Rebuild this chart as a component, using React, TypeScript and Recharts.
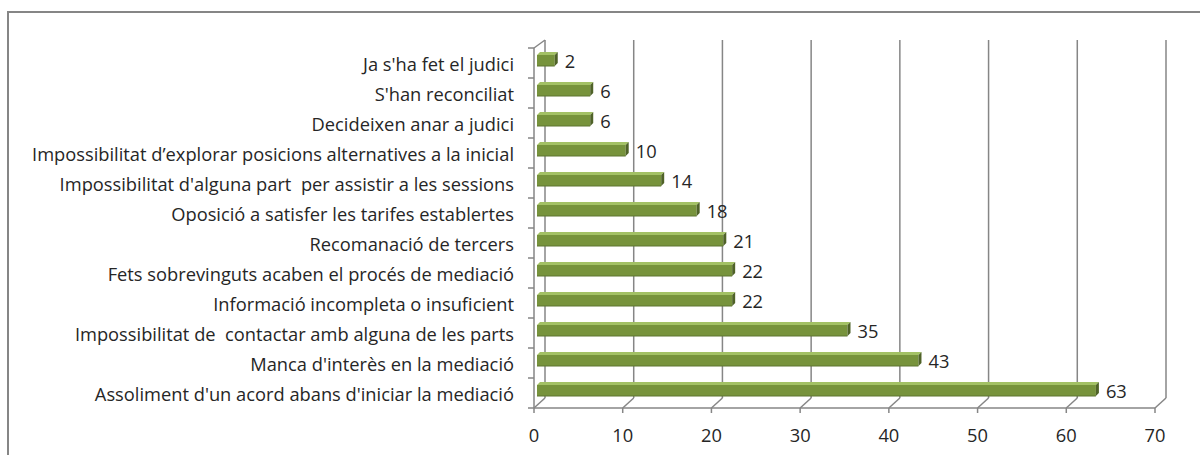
import React from "react"
import { BarChart, Bar, XAxis, YAxis, CartesianGrid, LabelList } from "recharts"

const categories = [
  "Ja s'ha fet el judici",
  "S'han reconciliat",
  "Decideixen anar a judici",
  "Impossibilitat d\u2019explorar posicions alternatives a la inicial",
  "Impossibilitat d'alguna part  per assistir a les sessions",
  "Oposició a satisfer les tarifes establertes",
  "Recomanació de tercers",
  "Fets sobrevinguts acaben el procés de mediació",
  "Informació incompleta o insuficient",
  "Impossibilitat de  contactar amb alguna de les parts",
  "Manca d'interès en la mediació",
  "Assoliment d'un acord abans d'iniciar la mediació",
]
const values = [2, 6, 6, 10, 14, 18, 21, 22, 22, 35, 43, 63]
const xTicks = [0, 10, 20, 30, 40, 50, 60, 70]

const data = categories.map((name, i) => ({ name, value: values[i] }))

const FONT = "'Open Sans', sans-serif"
const FS = 18.3
const GRID = "#868686"
const TEXT = "#262626"
const AXIS_X = 534
const PLOT_TOP = 48
const PLOT_BOTTOM = 408
const BAND = (PLOT_BOTTOM - PLOT_TOP) / categories.length
// 3D offsets (Excel style)
const WALL_DX = 11
const WALL_DY = 10
const BAR_OFF = 3
const BAR_D = 3

function Bar3D(props: any) {
  const { x, y, width, height } = props
  if (width <= 0) return null
  const x0 = x + BAR_OFF
  const y0 = y - BAR_OFF
  const d = BAR_D
  return (
    <g>
      <rect x={x0} y={y0} width={width} height={height} fill="#77933C" />
      <polygon
        points={`${x0},${y0} ${x0 + d},${y0 - d} ${x0 + width + d},${y0 - d} ${x0 + width},${y0}`}
        fill="#A3C165"
      />
      <polygon
        points={`${x0 + width},${y0} ${x0 + width + d},${y0 - d} ${x0 + width + d},${y0 - d + height} ${x0 + width},${y0 + height}`}
        fill="#4F6228"
      />
      <line x1={x0} y1={y0 + height} x2={x0 + width} y2={y0 + height} stroke="#5E7530" strokeWidth={1} />
    </g>
  )
}

function ValueLabel(props: any) {
  const { x, y, width, height, value } = props
  return (
    <text
      x={x + width + BAR_OFF + BAR_D + 7}
      y={y - BAR_OFF + height / 2 + 1}
      dy="0.36em"
      fontFamily={FONT}
      fontSize={FS}
      fill={TEXT}
    >
      {value}
    </text>
  )
}

function GridLine(props: any) {
  const { x1, y1, y2, index } = props
  return (
    <g key={`g-${index}-${x1}`}>
      <line x1={x1 + WALL_DX} y1={y1 - 8} x2={x1 + WALL_DX} y2={y2 - WALL_DY} stroke={GRID} strokeWidth={1.5} />
      <line x1={x1} y1={y2} x2={x1 + WALL_DX} y2={y2 - WALL_DY} stroke={GRID} strokeWidth={1.5} />
      {index === 0 && (
        <line x1={x1} y1={y1} x2={x1 + WALL_DX} y2={y1 - 8} stroke={GRID} strokeWidth={1.5} />
      )}
    </g>
  )
}

function CategoryTick(props: any) {
  const { y, payload, index } = props
  return (
    <g>
      <line x1={AXIS_X - 6} y1={y - BAND / 2} x2={AXIS_X} y2={y - BAND / 2} stroke={GRID} strokeWidth={1.5} />
      {index === categories.length - 1 && (
        <line x1={AXIS_X - 6} y1={y + BAND / 2} x2={AXIS_X} y2={y + BAND / 2} stroke={GRID} strokeWidth={1.5} />
      )}
      <text
        x={AXIS_X - 20}
        y={y + 1}
        dy="0.36em"
        textAnchor="end"
        fontFamily={FONT}
        fontSize={FS}
        fill={TEXT}
        style={{ whiteSpace: "pre" }}
      >
        {payload.value}
      </text>
    </g>
  )
}

export default function App() {
  return (
    <div
      style={{
        position: "fixed",
        left: 0,
        top: 0,
        width: 1200,
        height: 455,
        overflow: "hidden",
        background: "#fff",
      }}
    >
      <div
        style={{
          position: "absolute",
          left: 7,
          top: 11,
          width: 1300,
          height: 600,
          border: "2px solid #868686",
        }}
      />
      <div style={{ position: "absolute", left: 0, top: 0 }}>
        <BarChart
          width={1200}
          height={455}
          data={data}
          layout="vertical"
          margin={{ top: PLOT_TOP, bottom: 0, left: 0, right: 45 }}
          barCategoryGap={0}
        >
          <CartesianGrid horizontal={false} vertical={(p: any) => <GridLine {...p} />} stroke={GRID} />
          <XAxis
            type="number"
            domain={[0, 70]}
            ticks={xTicks}
            interval={0}
            height={455 - PLOT_BOTTOM}
            axisLine={{ stroke: GRID, strokeWidth: 1.5 }}
            tickLine={{ stroke: GRID, strokeWidth: 1.5 }}
            tickSize={5}
            tickMargin={16}
            tick={{ fontFamily: FONT, fontSize: FS, fill: TEXT }}
          />
          <YAxis
            type="category"
            dataKey="name"
            width={AXIS_X}
            axisLine={{ stroke: GRID, strokeWidth: 1.5 }}
            tickLine={false}
            tick={(p: any) => <CategoryTick {...p} />}
            interval={0}
          />
          <Bar dataKey="value" barSize={11} shape={(p: any) => <Bar3D {...p} />} isAnimationActive={false}>
            <LabelList dataKey="value" content={(p: any) => <ValueLabel {...p} />} />
          </Bar>
        </BarChart>
      </div>
    </div>
  )
}
